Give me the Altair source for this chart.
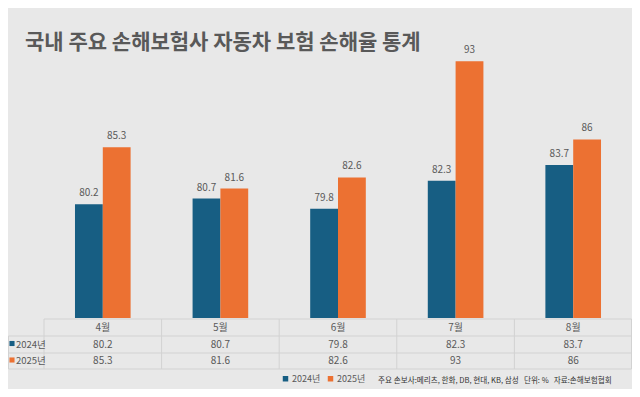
import altair as alt
import pandas as pd

months = ["4월", "5월", "6월", "7월", "8월"]
series = ["2024년", "2025년"]
vals_2024 = [80.2, 80.7, 79.8, 82.3, 83.7]
vals_2025 = [85.3, 81.6, 82.6, 93, 86]
colors = ["#175e83", "#ec7132"]
title_text = "국내 주요 손해보험사 자동차 보험 손해율 통계"
note_text = "주요 손보사:메리츠, 한화, DB, 현대, KB, 삼성\u00a0\u00a0 단위: %\u00a0\u00a0 자료:손해보험협회"

rows = []
for m, a, b in zip(months, vals_2024, vals_2025):
    rows.append({"month": m, "series": series[0], "value": a, "label": f"{a:g}"})
    rows.append({"month": m, "series": series[1], "value": b, "label": f"{b:g}"})
df = pd.DataFrame(rows)
one = pd.DataFrame({"d": [0]})

W, H = 588, 279
step = W / len(months)
FONT = "Noto Sans CJK KR"
TXT = "#595959"
GRID = "#d2d2d2"

xenc = alt.X("month:N", sort=months, axis=None,
             scale=alt.Scale(paddingInner=0.527, paddingOuter=0.2635))
yscale = alt.Scale(domain=[70, 95], zero=False, nice=False)

base = alt.Chart(df)

bars = base.mark_bar().encode(
    x=xenc,
    xOffset=alt.XOffset("series:N", sort=series),
    y=alt.Y("value:Q", scale=yscale, axis=None),
    y2=alt.datum(70),
    color=alt.Color("series:N", sort=series,
                    scale=alt.Scale(domain=series, range=colors),
                    legend=alt.Legend(title=None, orient="none", legendX=237, legendY=335,
                                      direction="horizontal", symbolType="square",
                                      symbolSize=30, symbolStrokeWidth=0,
                                      labelFontSize=9, labelColor=TXT, labelFont=FONT,
                                      labelOffset=2, columnPadding=5, padding=0, symbolOffset=0)),
)

bar_labels = base.mark_text(fontSize=10, color=TXT, font=FONT, baseline="middle", dy=-11).encode(
    x=xenc,
    xOffset=alt.XOffset("series:N", sort=series),
    y=alt.Y("value:Q", scale=yscale, axis=None),
    text="label:N",
)

header = base.transform_filter(alt.datum.series == series[0]).mark_text(
    fontSize=10, color=TXT, font=FONT, baseline="middle").encode(
    x=xenc, y=alt.value(288.5), text="month:N")

row1 = base.transform_filter(alt.datum.series == series[0]).mark_text(
    fontSize=10, color=TXT, font=FONT, baseline="middle").encode(
    x=xenc, y=alt.value(305.5), text="label:N")

row2 = base.transform_filter(alt.datum.series == series[1]).mark_text(
    fontSize=10, color=TXT, font=FONT, baseline="middle").encode(
    x=xenc, y=alt.value(322), text="label:N")


def hrule(y, x1, x2):
    return alt.Chart(one).mark_rule(color=GRID, strokeWidth=1).encode(
        x=alt.value(x1), x2=alt.value(x2), y=alt.value(y))


def vrule(x, y1, y2):
    return alt.Chart(one).mark_rule(color=GRID, strokeWidth=1).encode(
        x=alt.value(x), y=alt.value(y1), y2=alt.value(y2))


grid = [hrule(280, 0, W - 0.5), hrule(297, -35.5, W - 0.5),
        hrule(314, -35.5, W - 0.5), hrule(330, -35.5, W - 0.5),
        vrule(-35.5, 297, 330)]
for i in range(len(months) + 1):
    xx = min(i * step, W - 0.5)
    grid.append(vrule(xx, 280, 330))

row_sq1 = alt.Chart(one).mark_point(shape="square", filled=True, size=26, color=colors[0], opacity=1).encode(
    x=alt.value(-32), y=alt.value(304.5))
row_sq2 = alt.Chart(one).mark_point(shape="square", filled=True, size=26, color=colors[1], opacity=1).encode(
    x=alt.value(-32), y=alt.value(321))
row_lab1 = alt.Chart(one).mark_text(fontSize=9.5, color=TXT, font=FONT, align="left", baseline="middle").encode(
    x=alt.value(-28), y=alt.value(305.5), text=alt.value(series[0]))
row_lab2 = alt.Chart(one).mark_text(fontSize=9.5, color=TXT, font=FONT, align="left", baseline="middle").encode(
    x=alt.value(-28), y=alt.value(322), text=alt.value(series[1]))

title = alt.Chart(one).mark_text(fontSize=21, fontWeight="bold", color="#595959", font=FONT,
                                 align="left", baseline="middle").encode(
    x=alt.value(-19), y=alt.value(4), text=alt.value(title_text))

note = alt.Chart(one).mark_text(fontSize=7.6, color="#333333", font=FONT,
                                align="left", baseline="middle").encode(
    x=alt.value(334), y=alt.value(342), text=alt.value(note_text))

chart = alt.layer(
    *grid, bars, bar_labels, header, row1, row2,
    row_sq1, row_sq2, row_lab1, row_lab2, title, note
).properties(
    width=W, height=H,
    padding={"left": 36, "top": 31, "right": 0, "bottom": 71},
    autosize=alt.AutoSizeParams(type="none"),
    background="#e8e8e8",
).configure_view(stroke=None)

chart.save("out.html", embed_options={"renderer": "svg", "actions": False})
